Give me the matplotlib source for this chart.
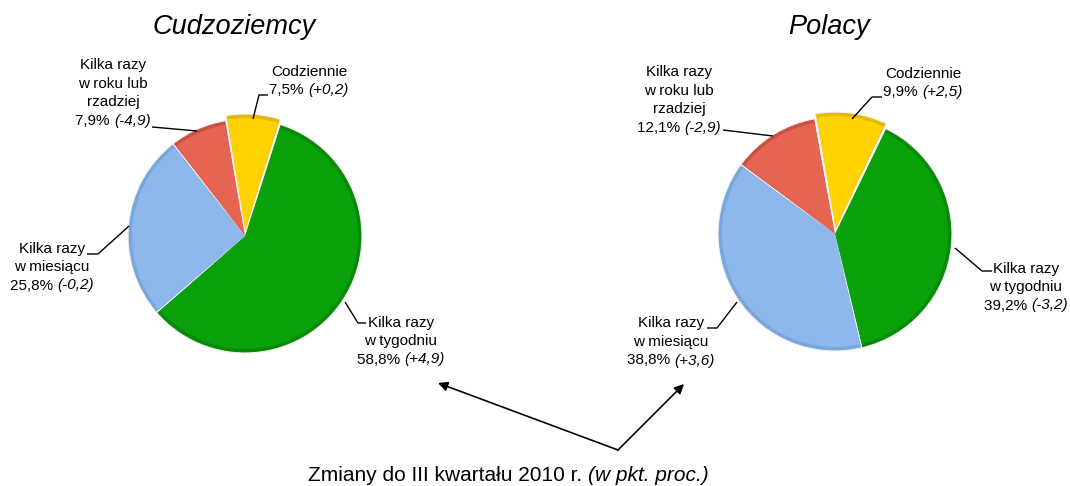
import matplotlib
matplotlib.use("Agg")
import matplotlib.pyplot as plt
from matplotlib.patches import Wedge
import numpy as np

plt.rcParams['font.family'] = ['Liberation Sans', 'DejaVu Sans']

# ---- data ----
categories = ["Codziennie", "Kilka razy w tygodniu", "Kilka razy w miesiącu", "Kilka razy w roku lub rzadziej"]
label_lines = [["Codziennie"], ["Kilka razy", "w tygodniu"], ["Kilka razy", "w miesiącu"],
               ["Kilka razy", "w roku lub", "rzadziej"]]
foreign_share = [7.5, 58.8, 25.8, 7.9]
foreign_change = ["+0,2", "+4,9", "-0,2", "-4,9"]
polish_share = [9.9, 39.2, 38.8, 12.1]
polish_change = ["+2,5", "-3,2", "+3,6", "-2,9"]
titles = ["Cudzoziemcy", "Polacy"]
footnote_main = "Zmiany do III kwartału 2010 r. "
footnote_it = "(w pkt. proc.)"

colors = ["#FFD200", "#0AA00A", "#8DB8EC", "#E66452"]
rim_colors = ["#E6B800", "#078A07", "#7AA6DC", "#CC5040"]

W, H = 1070, 486
fig = plt.figure(figsize=(W / 100, H / 100), dpi=100)
ax = fig.add_axes([0, 0, 1, 1])
ax.set_xlim(0, W)
ax.set_ylim(0, H)
ax.axis("off")

def Y(y):
    return H - y

def draw_pie(cx, cy, r, shares, start, explode_idx=0, explode=5):
    total = sum(shares)
    a = start
    for i, s in enumerate(shares):
        span = s / total * 360.0
        t1, t2 = a - span, a
        mid = np.deg2rad((t1 + t2) / 2)
        dx, dy = (explode * np.cos(mid), explode * np.sin(mid)) if i == explode_idx else (0, 0)
        c = (cx + dx, Y(cy) + dy)
        ax.add_patch(Wedge(c, r, t1, t2, facecolor=rim_colors[i], edgecolor="#f2f2f2", lw=0.8, zorder=2))
        ax.add_patch(Wedge(c, r - 4, t1 + 0.6, t2 - 0.6, facecolor=colors[i], edgecolor="none", zorder=3))
        a = t1

renderer = fig.canvas.get_renderer()

def label(x, yc, lines, share, change, fs=11, lh=18.5):
    n = len(lines) + 1
    y0 = yc - (n - 1) * lh / 2
    for k, ln in enumerate(lines):
        ax.text(x, Y(y0 + k * lh), ln, ha="center", va="center", fontsize=fs, zorder=5)
    yl = Y(y0 + (n - 1) * lh)
    pct = ("%.1f" % share).replace(".", ",") + "% "
    ta = ax.text(0, yl, pct, ha="left", va="center", fontsize=fs, zorder=5)
    tb = ax.text(0, yl, "(" + change + ")", ha="left", va="center", fontsize=fs, style="italic", zorder=5)
    wa = ta.get_window_extent(renderer).width
    wb = tb.get_window_extent(renderer).width
    left = x - (wa + wb) / 2
    ta.set_x(left)
    tb.set_x(left + wa)

def leader(pts):
    xs = [p[0] for p in pts]
    ys = [Y(p[1]) for p in pts]
    ax.plot(xs, ys, color="black", lw=1, zorder=4, solid_capstyle="butt")

# ---- left pie: foreigners ----
draw_pie(245, 236, 117, foreign_share, 99.5)
ax.text(234, Y(27), titles[0], ha="center", va="center", fontsize=19.5, style="italic")
label(309, 81, label_lines[0], foreign_share[0], foreign_change[0])
label(113, 93, label_lines[3], foreign_share[3], foreign_change[3])
label(52, 267, label_lines[2], foreign_share[2], foreign_change[2])
label(401, 341, label_lines[1], foreign_share[1], foreign_change[1])
leader([(253, 119), (259, 95), (268, 95)])
leader([(152, 127), (197, 131)])
leader([(87, 254), (98, 254), (129, 226)])
leader([(345, 302), (358, 323), (366, 323)])

# ---- right pie: Poles ----
draw_pie(835, 234, 117, polish_share, 100.0)
ax.text(829, Y(27), titles[1], ha="center", va="center", fontsize=19.5, style="italic")
label(923, 83, label_lines[0], polish_share[0], polish_change[0])
label(679, 100, label_lines[3], polish_share[3], polish_change[3])
label(1026, 287, label_lines[1], polish_share[1], polish_change[1])
label(671, 342, label_lines[2], polish_share[2], polish_change[2])
leader([(852, 119), (872, 97), (882, 97)])
leader([(723, 130), (773, 136)])
leader([(955, 248), (982, 271), (992, 271)])
leader([(707, 328), (717, 328), (737, 302)])

# ---- arrows & footnote ----
for tip in [(438, 383), (684, 384)]:
    ax.annotate("", xy=(tip[0], Y(tip[1])), xytext=(618, Y(450)),
                arrowprops=dict(arrowstyle="-|>", color="black", lw=1.2, mutation_scale=14,
                                shrinkA=0, shrinkB=0))

tm = ax.text(0, Y(475), footnote_main, ha="left", va="center", fontsize=15)
ti = ax.text(0, Y(475), footnote_it, ha="left", va="center", fontsize=15, style="italic")
wm = tm.get_window_extent(renderer).width
wi = ti.get_window_extent(renderer).width
l0 = 508 - (wm + wi) / 2
tm.set_x(l0)
ti.set_x(l0 + wm)

fig.savefig("out.png", dpi=100)
